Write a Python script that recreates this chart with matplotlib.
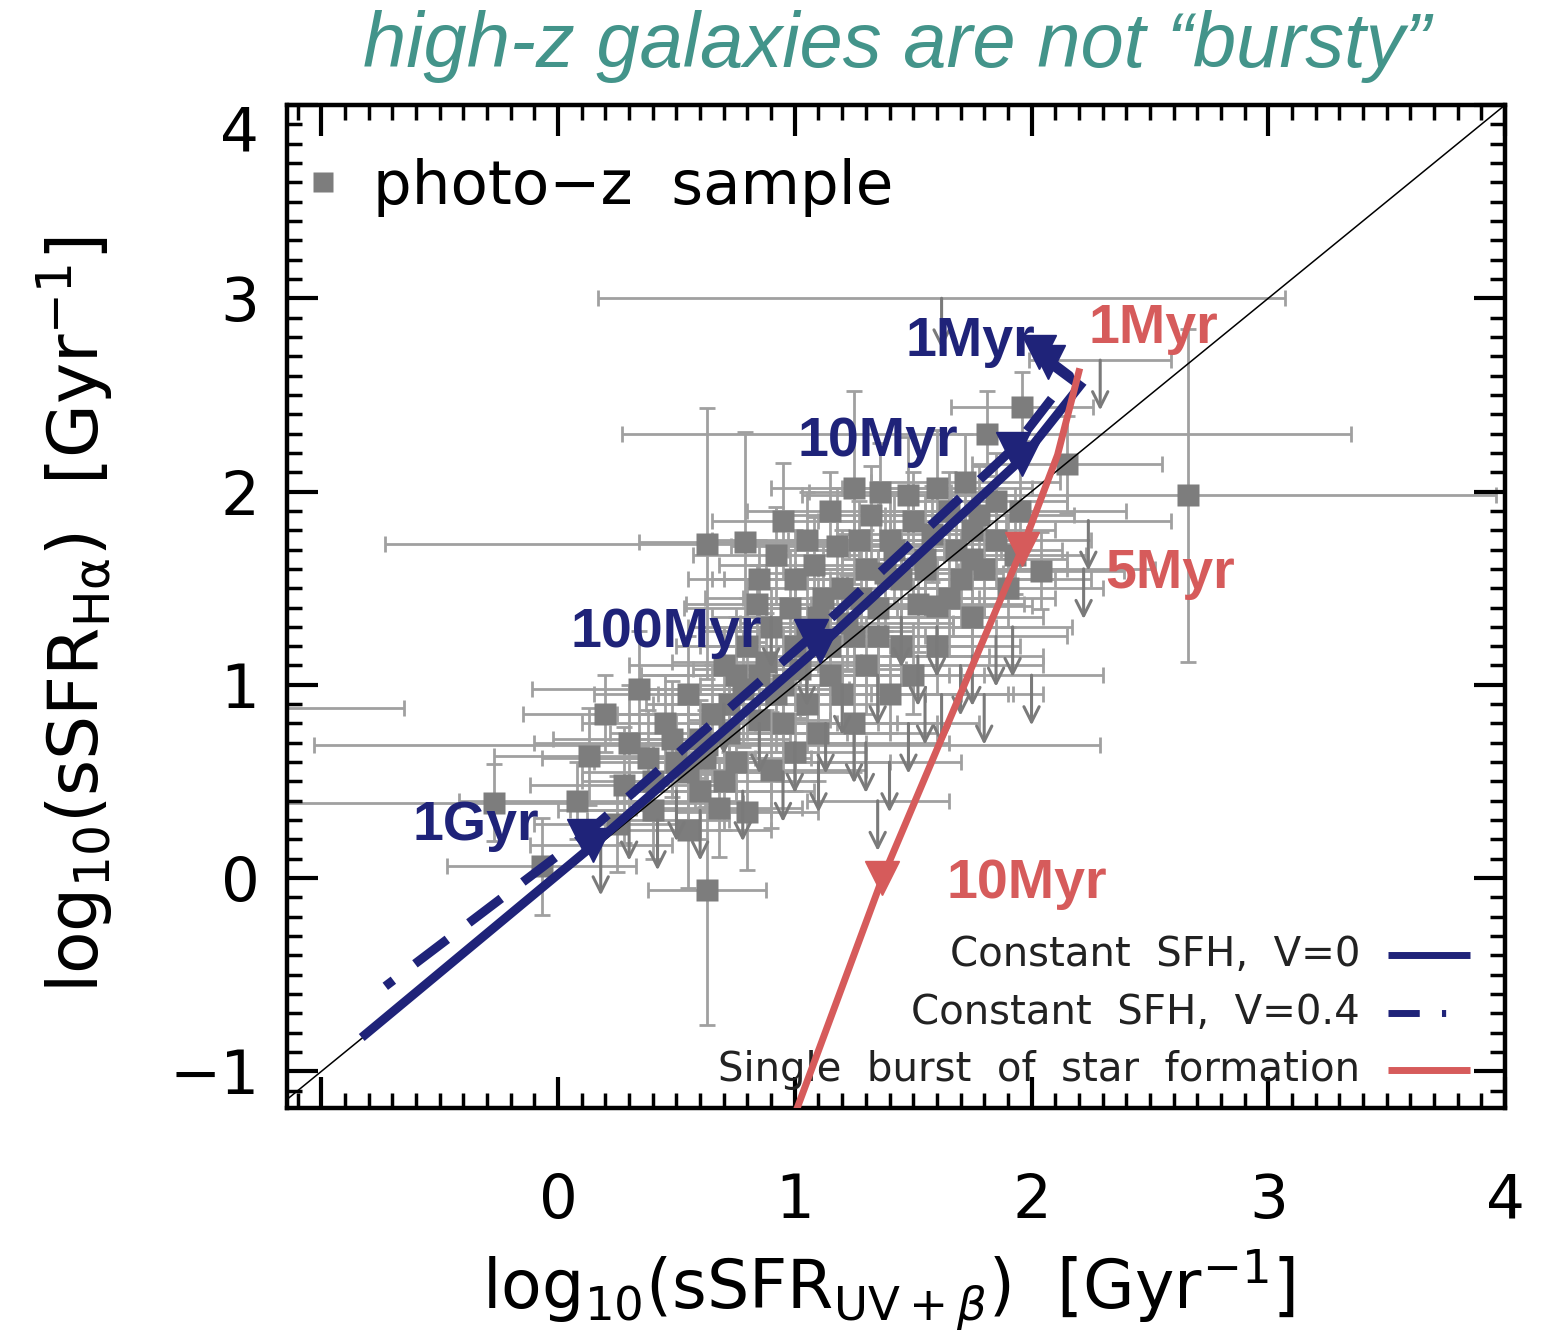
import numpy as np
import matplotlib.pyplot as plt
from matplotlib.transforms import ScaledTranslation

# photo-z sample, detections: log sSFR(UV+beta), log sSFR(Halpha) and errors
det_x = [2.66, 1.96, 1.81, 2.15, 0.63, 0.79, 1.25, 1.36, 1.60, 1.27, 0.92, 0.84,
         0.34, 0.13, 0.08, -0.27, -0.07, 0.63, 0.80, 0.68, 0.90, 2.04, 1.60, 1.93,
         0.63, -1.35, 1.45,
         0.45, 0.55, 0.60, 0.72, 0.75, 0.85, 0.95, 1.00, 1.05, 1.10, 1.15, 1.20,
         1.25, 1.30, 1.35, 1.40, 1.45, 1.50, 1.55, 1.65, 1.70, 1.75, 1.85, 1.90,
         1.00, 0.90, 0.80, 0.70, 0.50, 0.40, 0.30, 0.20, 1.10, 1.20, 1.30, 1.40,
         1.05, 1.15, 0.95, 1.60, 1.75, 1.80, 0.60, 0.75, 1.00, 0.85, 1.25, 1.50,
         0.55, 0.65, 0.78, 0.88, 0.98, 1.08, 1.18, 1.32, 1.48, 1.58, 1.68, 1.78,
         1.12, 1.22, 1.38, 1.52, 0.92, 1.02, 0.72, 0.62, 0.48, 0.38, 0.28, 0.25,
         0.40, 0.55, 0.70, 1.65, 1.85, 1.95, 1.72, 1.42, 1.28, 1.05, 0.85, 0.95,
         1.15, 1.35, 1.55, 1.75]
det_y = [1.98, 2.44, 2.30, 2.14, 1.73, 1.74, 2.02, 2.00, 2.02, 1.75, 1.67, 1.42,
         0.98, 0.63, 0.40, 0.39, 0.06, -0.06, 0.34, 0.36, 0.56, 1.59, 1.41, 1.67,
         0.69, 0.88, 1.55,
         0.80, 0.95, 0.72, 0.90, 1.05, 0.82, 1.00, 1.20, 0.90, 1.35, 1.05, 1.50,
         1.25, 1.60, 1.40, 1.75, 1.20, 1.85, 1.65, 1.90, 1.55, 1.80, 1.95, 1.50,
         1.55, 1.30, 1.20, 1.10, 0.60, 0.50, 0.70, 0.85, 0.75, 0.95, 1.10, 0.95,
         1.75, 1.90, 1.85, 1.20, 1.35, 1.60, 0.45, 0.60, 0.65, 1.55, 0.80, 1.05,
         0.55, 0.85, 0.98, 1.12, 1.40, 1.62, 1.72, 1.88, 1.98, 1.78, 1.70, 1.88,
         1.45, 1.32, 1.58, 1.42, 0.95, 1.08, 0.75, 0.62, 0.72, 0.62, 0.48, 0.28,
         0.35, 0.25, 0.50, 1.45, 1.75, 1.90, 2.05, 1.70, 1.45, 1.28, 1.05, 0.80,
         1.20, 1.25, 1.60, 1.65]
det_xerr = [1.30, 0.30, 1.54, 0.40, 1.36, 0.45, 0.35, 0.30, 0.40, 0.30, 0.35, 0.30,
            0.45, 0.40, 0.50, 1.05, 0.40, 0.25, 0.30, 0.35, 0.40, 0.35, 0.40, 0.30,
            1.66, 0.70, 0.80,
            0.35, 0.40, 0.30, 0.35, 0.40, 0.30, 0.35, 0.40, 0.30, 0.35, 0.30, 0.40,
            0.35, 0.30, 0.45, 0.35, 0.30, 0.40, 0.35, 0.30, 0.40, 0.35, 0.30, 0.40,
            0.30, 0.35, 0.30, 0.40, 0.35, 0.30, 0.40, 0.35, 0.30, 0.35, 0.30, 0.30,
            0.40, 0.35, 0.30, 0.35, 0.30, 0.35, 0.30, 0.35, 0.30, 0.30, 0.35, 0.30,
            0.45, 0.40, 0.45, 0.40, 0.45, 0.40, 0.45, 0.40, 0.45, 0.40, 0.45, 0.40,
            0.50, 0.45, 0.50, 0.45, 0.50, 0.45, 0.50, 0.45, 0.50, 0.45, 0.40, 0.35,
            0.40, 0.35, 0.40, 0.45, 0.40, 0.45, 0.40, 0.45, 0.50, 0.45, 0.50, 0.40,
            0.45, 0.40, 0.45, 0.40]
det_yerr = [0.86, 0.18, 0.22, 0.25, 0.70, 0.57, 0.50, 0.25, 0.30, 0.20, 0.25, 0.20,
            0.30, 0.25, 0.20, 0.20, 0.25, 0.70, 0.30, 0.25, 0.30, 0.20, 0.25, 0.20,
            0.15, 0.10, 0.20,
            0.25, 0.30, 0.20, 0.25, 0.30, 0.20, 0.25, 0.30, 0.25, 0.20, 0.25, 0.30,
            0.25, 0.20, 0.30, 0.25, 0.20, 0.25, 0.30, 0.20, 0.25, 0.20, 0.25, 0.20,
            0.25, 0.20, 0.25, 0.20, 0.25, 0.20, 0.30, 0.20, 0.25, 0.20, 0.25, 0.20,
            0.25, 0.20, 0.30, 0.25, 0.20, 0.25, 0.25, 0.20, 0.20, 0.20, 0.25, 0.20,
            0.30, 0.25, 0.30, 0.25, 0.30, 0.25, 0.30, 0.25, 0.30, 0.25, 0.30, 0.25,
            0.30, 0.25, 0.30, 0.25, 0.30, 0.25, 0.30, 0.25, 0.30, 0.25, 0.30, 0.25,
            0.25, 0.30, 0.25, 0.30, 0.25, 0.30, 0.25, 0.30, 0.25, 0.30, 0.25, 0.30,
            0.25, 0.30, 0.25, 0.30]

# Halpha upper limits
lim_x = [1.62, 2.29, 2.24, 2.22, 0.18, 0.30, 0.42, 0.50, 1.35, 1.25, 1.13, 1.00, 1.70,
         1.60, 1.45, 1.35, 1.85, 1.92, 1.55, 0.85, 0.70, 1.20, 2.00, 1.80, 0.90, 1.05,
         1.10, 1.30, 1.48, 1.62, 1.75, 1.40, 0.95, 1.52, 0.60, 0.78]
lim_y = [3.00, 2.68, 1.85, 1.60, 0.17, 0.35, 0.30, 0.45, 0.40, 0.75, 0.80, 0.70, 1.10,
         1.30, 1.35, 1.05, 1.25, 1.30, 0.95, 0.80, 0.90, 1.00, 1.05, 0.95, 1.35, 1.15,
         0.60, 0.70, 0.80, 0.95, 1.15, 0.60, 0.55, 1.15, 0.35, 0.45]
lim_xerr = [1.45, 0.30, 0.35, 0.30, 0.30, 0.25, 0.30, 0.25, 0.30, 0.35, 0.30, 0.30, 0.35,
            0.25, 0.30, 0.30, 0.30, 0.25, 0.35, 0.25, 0.30, 0.30, 0.30, 0.25, 0.25, 0.30,
            0.30, 0.35, 0.30, 0.30, 0.30, 0.30, 0.30, 0.30, 0.30, 0.30]

# model tracks
csfh_x = [2.07, 2.205, 1.96, 1.107, 0.148, -0.815]
csfh_y = [2.67, 2.548, 2.17, 1.20, 0.17, -0.81]
csfh_dust_x = [2.03, 2.16, 1.92, 1.07, 0.11, -0.73]
csfh_dust_y = [2.72, 2.60, 2.22, 1.25, 0.22, -0.56]
burst_x = [2.20, 2.11, 1.96, 1.37, 1.01, 0.97]
burst_y = [2.62, 2.19, 1.705, 0.00, -1.19, -1.30]

# age markers along the tracks
csfh_age_x = [2.07, 1.96, 1.107, 0.148]
csfh_age_y = [2.67, 2.17, 1.20, 0.17]
csfh_dust_age_x = [2.03, 1.92, 1.07, 0.11]
csfh_dust_age_y = [2.72, 2.22, 1.25, 0.22]
burst_age_x = [1.96, 1.37]
burst_age_y = [1.705, 0.00]

csfh_labels = ["1Myr", "10Myr", "100Myr", "1Gyr"]
csfh_label_x = [1.466, 1.010, 0.051, -0.613]
csfh_label_y = [2.703, 2.186, 1.194, 0.196]
burst_labels = ["1Myr", "5Myr", "10Myr"]
burst_label_x = [2.239, 2.311, 1.639]
burst_label_y = [2.77, 1.499, -0.103]

navy = "#1f2379"
red = "#d65b5b"
grey_bar = "#a0a0a0"
grey_pt = "#7d7d7d"

fig = plt.figure(figsize=(15.45, 13.31), dpi=100)
ax = fig.add_axes([0.1858, 0.1675, 0.7883, 0.7536])

ax.errorbar(det_x, det_y, xerr=det_xerr, yerr=det_yerr, fmt="none",
            ecolor=grey_bar, elinewidth=2, capsize=6, capthick=2, zorder=1)
ax.errorbar(lim_x, lim_y, xerr=lim_xerr, fmt="none",
            ecolor=grey_bar, elinewidth=2, capsize=6, capthick=2, zorder=1)
ax.plot(det_x, det_y, "s", color=grey_pt, ms=16, mec="none", zorder=2)
for x, y in zip(lim_x, lim_y):
    ax.annotate("", xy=(x, y - 0.26), xytext=(x, y),
                arrowprops=dict(arrowstyle="->,head_length=1.1,head_width=0.55",
                                color="#7a7a7a", lw=2.2, shrinkA=0, shrinkB=0),
                zorder=2)

ax.plot([-2, 5], [-2, 5], color="k", lw=1.1, zorder=3)

ax.plot(csfh_x, csfh_y, color=navy, lw=6.5, solid_joinstyle="miter", zorder=4)
ax.plot(csfh_dust_x, csfh_dust_y, color=navy, lw=6.5, ls=(0, (4.5, 3)), zorder=4)
ax.plot(burst_x, burst_y, color=red, lw=5, zorder=4)

ax.plot(csfh_age_x, csfh_age_y, "v", color=navy, ms=24, zorder=5)
ax.plot(csfh_dust_age_x, csfh_dust_age_y, "v", color=navy, ms=24, zorder=5)
ax.plot(burst_age_x, burst_age_y, "v", color=red, ms=24, zorder=5)

for t, x, y in zip(csfh_labels, csfh_label_x, csfh_label_y):
    ax.text(x, y, t, color=navy, fontsize=40, fontweight="bold",
            family="Liberation Sans", zorder=6)
for t, x, y in zip(burst_labels, burst_label_x, burst_label_y):
    ax.text(x, y, t, color=red, fontsize=40, fontweight="bold",
            family="Liberation Sans", zorder=6)

# legends
ax.plot([0.0296], [0.923], "s", color=grey_pt, ms=15, mec="none",
        transform=ax.transAxes, clip_on=False)
ax.text(0.0706, 0.918, "photo\u2212z  sample", transform=ax.transAxes,
        fontsize=44, va="center", ha="left")

legend_text = ["Constant  SFH,  V=0", "Constant  SFH,  V=0.4",
               "Single  burst  of  star  formation"]
legend_y = [0.1525, 0.0947, 0.0379]
legend_style = [(navy, "-"), (navy, (0, (4.5, 3.2, 0.6, 10))), (red, "-")]
for t, y, (c, ls) in zip(legend_text, legend_y, legend_style):
    ax.text(0.881, y, t, transform=ax.transAxes, fontsize=29, color="#222222",
            ha="right", va="center")
    ax.plot([0.904, 0.971], [y, y], transform=ax.transAxes, color=c, ls=ls,
            lw=5, solid_capstyle="butt", dash_capstyle="butt")

ax.set_xlim(-1.145, 4.0)
ax.set_ylim(-1.19, 4.0)
ax.set_xticks([-1, 0, 1, 2, 3, 4])
ax.set_xticklabels(["", "0", "1", "2", "3", "4"])
ax.set_yticks([-1, 0, 1, 2, 3, 4])
ax.set_yticklabels(["\u22121", "0", "1", "2", "3", "4"])
ax.set_xticks(np.arange(-1.1, 4.0, 0.1), minor=True)
ax.set_yticks(np.arange(-1.1, 4.0, 0.1), minor=True)
ax.tick_params(which="both", direction="in", top=True, right=True, width=3)
ax.tick_params(which="major", length=22)
ax.tick_params(which="minor", length=11, width=2.5)
ax.tick_params(axis="x", which="major", pad=46, labelsize=44)
ax.tick_params(axis="y", which="major", pad=20, labelsize=44)
for s in ax.spines.values():
    s.set_linewidth(3.2)

# the top y label sits lower than its tick
for lab in ax.get_yticklabels():
    if lab.get_text() == "4":
        lab.set_transform(lab.get_transform() +
                          ScaledTranslation(0, -0.22, fig.dpi_scale_trans))

fig.text(0.575, 0.031, r"log$_{10}$(sSFR$_{\mathrm{UV+}\beta}$)  [Gyr$^{-1}$]",
         fontsize=48, ha="center", va="center")
fig.text(0.0485, 0.538, r"log$_{10}$(sSFR$_{\mathrm{H\alpha}}$)  [Gyr$^{-1}$]",
         fontsize=50, ha="center", va="center", rotation=90)
fig.text(0.5806, 0.965, "high-z galaxies are not \u201cbursty\u201d",
         fontsize=56, style="italic", family="Liberation Sans", color="#43948a",
         ha="center", va="center")

fig.savefig("out.png", dpi=100)
